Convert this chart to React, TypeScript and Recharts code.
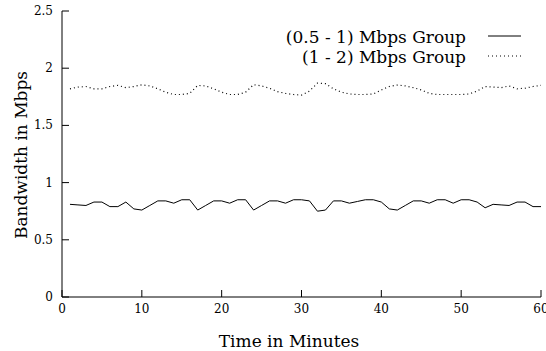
import React from "react";
import { LineChart, Line, XAxis, YAxis } from "recharts";

const minutes = [
  1, 2, 3, 4, 5, 6, 7, 8, 9, 10, 11, 12, 13, 14, 15, 16, 17, 18, 19, 20,
  21, 22, 23, 24, 25, 26, 27, 28, 29, 30, 31, 32, 33, 34, 35, 36, 37, 38, 39, 40,
  41, 42, 43, 44, 45, 46, 47, 48, 49, 50, 51, 52, 53, 54, 55, 56, 57, 58, 59, 60,
];

const lowGroup = [
  0.81, 0.805, 0.8, 0.83, 0.83, 0.79, 0.79, 0.83, 0.77, 0.76,
  0.8, 0.84, 0.84, 0.82, 0.85, 0.85, 0.76, 0.8, 0.84, 0.84,
  0.82, 0.85, 0.85, 0.76, 0.8, 0.84, 0.84, 0.82, 0.85, 0.85,
  0.84, 0.75, 0.76, 0.84, 0.84, 0.82, 0.835, 0.85, 0.85, 0.83,
  0.77, 0.76, 0.8, 0.84, 0.84, 0.82, 0.85, 0.85, 0.82, 0.85,
  0.85, 0.83, 0.78, 0.81, 0.805, 0.8, 0.83, 0.83, 0.79, 0.79,
];

const highGroup = [
  1.82, 1.835, 1.84, 1.82, 1.82, 1.84, 1.85, 1.83, 1.84, 1.855,
  1.845, 1.82, 1.79, 1.77, 1.77, 1.78, 1.85, 1.845, 1.82, 1.79,
  1.77, 1.77, 1.79, 1.856, 1.845, 1.825, 1.795, 1.78, 1.77, 1.765,
  1.8, 1.87, 1.865, 1.82, 1.79, 1.775, 1.77, 1.77, 1.775, 1.81,
  1.84, 1.853, 1.845, 1.83, 1.81, 1.78, 1.77, 1.77, 1.77, 1.77,
  1.775, 1.8, 1.84, 1.835, 1.83, 1.845, 1.82, 1.825, 1.84, 1.85,
];

const xTicks = [0, 10, 20, 30, 40, 50, 60];
const yTicks = [0, 0.5, 1, 1.5, 2, 2.5];

const seriesNames = ["(0.5 - 1) Mbps Group", "(1 - 2) Mbps Group"];

const data = minutes.map((m, i) => ({
  minute: m,
  low: lowGroup[i],
  high: highGroup[i],
}));

// only serif face available in the sandbox
const FONT = '"DejaVu Serif", serif';
const TICK = 7;

const LeftTick = (props: any) => {
  const { x, y, payload } = props;
  return (
    <g>
      <line x1={x} y1={y} x2={x + TICK} y2={y} stroke="#000" />
      <text x={x - 9} y={y} dy={4} textAnchor="end" fontSize={12} style={{ fontFamily: FONT }} fill="#000">
        {payload.value}
      </text>
    </g>
  );
};

const BottomTick = (props: any) => {
  const { x, y, payload } = props;
  return (
    <g>
      <line x1={x} y1={y} x2={x} y2={y - TICK} stroke="#000" />
      <text x={x} y={y + 16} textAnchor="middle" fontSize={12} style={{ fontFamily: FONT }} fill="#000">
        {payload.value}
      </text>
    </g>
  );
};

const RightTick = (props: any) => {
  const { x, y } = props;
  return <line x1={x} y1={y} x2={x - TICK} y2={y} stroke="#000" />;
};

const TopTick = (props: any) => {
  const { x, y } = props;
  return <line x1={x} y1={y} x2={x} y2={y + TICK} stroke="#000" />;
};

const App = () => {
  return (
    <div style={{ position: "absolute", left: 0, top: 0, width: 546, height: 351, background: "#fff" }}>
      <LineChart
        width={546}
        height={351}
        data={data}
        margin={{ top: 11, right: 5, bottom: 0, left: 0 }}
      >
        <XAxis
          xAxisId="b"
          dataKey="minute"
          type="number"
          domain={[0, 60]}
          ticks={xTicks}
          height={54}
          tickSize={0}
          tickMargin={0}
          tickLine={false}
          axisLine={{ stroke: "#000" }}
          tick={<BottomTick />}
          interval={0}
        />
        <XAxis
          xAxisId="t"
          orientation="top"
          dataKey="minute"
          type="number"
          domain={[0, 60]}
          ticks={xTicks}
          height={0}
          tickSize={0}
          tickMargin={0}
          tickLine={false}
          axisLine={{ stroke: "#000" }}
          tick={<TopTick />}
          interval={0}
        />
        <YAxis
          yAxisId="l"
          type="number"
          domain={[0, 2.5]}
          ticks={yTicks}
          width={62}
          tickSize={0}
          tickMargin={0}
          tickLine={false}
          axisLine={{ stroke: "#000" }}
          tick={<LeftTick />}
          interval={0}
        />
        <YAxis
          yAxisId="r"
          orientation="right"
          type="number"
          domain={[0, 2.5]}
          ticks={yTicks}
          width={0}
          tickSize={0}
          tickMargin={0}
          tickLine={false}
          axisLine={{ stroke: "#000" }}
          tick={<RightTick />}
          interval={0}
        />
        <Line
          xAxisId="b"
          yAxisId="l"
          type="linear"
          dataKey="low"
          name={seriesNames[0]}
          stroke="#000"
          strokeWidth={1}
          dot={false}
          isAnimationActive={false}
        />
        <Line
          xAxisId="b"
          yAxisId="l"
          type="linear"
          dataKey="high"
          name={seriesNames[1]}
          stroke="#000"
          strokeWidth={1.2}
          strokeDasharray="1 3"
          dot={false}
          isAnimationActive={false}
        />
      </LineChart>

      <div
        style={{
          position: "absolute",
          left: 0,
          top: 155,
          width: 44,
          height: 0,
          fontFamily: FONT,
          fontSize: 17,
        }}
      >
        <div
          style={{
            position: "absolute",
            left: 21,
            top: 0,
            transform: "translate(-50%, -50%) rotate(-90deg)",
            whiteSpace: "nowrap",
            lineHeight: "20px",
          }}
        >
          Bandwidth in Mbps
        </div>
      </div>

      <div
        style={{
          position: "absolute",
          left: 189,
          top: 331,
          width: 200,
          textAlign: "center",
          fontFamily: FONT,
          fontSize: 17,
          lineHeight: "20px",
        }}
      >
        Time in Minutes
      </div>

      <div style={{ position: "absolute", left: 250, top: 27, fontFamily: FONT, fontSize: 17 }}>
        {seriesNames.map((name, i) => (
          <div key={name} style={{ display: "flex", alignItems: "center", height: 20 }}>
            <div style={{ width: 216, textAlign: "right", lineHeight: "20px", whiteSpace: "nowrap" }}>{name}</div>
            <svg width={60} height={20} style={{ display: "block" }}>
              <line
                x1={22}
                x2={55}
                y1={9}
                y2={9}
                stroke="#000"
                strokeWidth={i === 0 ? 1 : 1.2}
                strokeDasharray={i === 0 ? undefined : "1 3"}
              />
            </svg>
          </div>
        ))}
      </div>
    </div>
  );
};

export default App;
